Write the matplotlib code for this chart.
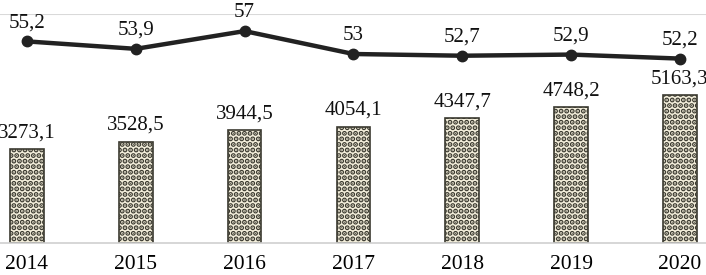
import matplotlib
matplotlib.use("Agg")
import matplotlib.pyplot as plt
import numpy as np

years = ["2014", "2015", "2016", "2017", "2018", "2019", "2020"]
bar_values = [3273.1, 3528.5, 3944.5, 4054.1, 4347.7, 4748.2, 5163.3]
line_values = [55.2, 53.9, 57.0, 53.0, 52.7, 52.9, 52.2]

def fmt(v):
    s = ("%g" % v)
    return s.replace(".", ",")

plt.rcParams['font.family'] = ['Liberation Serif', 'DejaVu Serif']
plt.rcParams['hatch.linewidth'] = 2.6

fig = plt.figure(figsize=(7.06, 2.75), dpi=100)
ax = fig.add_axes([0, 0.1164, 1, 0.833])
x = np.arange(len(years))

bars = ax.bar(x, bar_values, width=0.31, facecolor='#f4efdc', edgecolor='#3b3a30',
              hatch='...', linewidth=1.2, zorder=2)
ax.set_ylim(0, 8000)
ax.set_xlim(-0.248, 6.24)
for xi, v in zip(x, bar_values):
    ax.annotate(fmt(v), (xi, v), xytext=(0, 5), textcoords='offset points',
                ha='center', va='bottom', fontsize=15, color='#111111')

ax.axhline(8000, color='#d9d9d9', linewidth=1.5, zorder=1)
for s in ['top', 'right', 'left']:
    ax.spines[s].set_visible(False)
ax.spines['bottom'].set_color('#d0d0d0')
ax.spines['bottom'].set_linewidth(1.2)
ax.set_yticks([])
ax.set_xticks(x)
ax.set_xticklabels(years, fontsize=15.5)
ax.tick_params(axis='x', length=0, pad=9)

ax2 = ax.twinx()
ax2.set_ylim(20, 60)
ax2.plot(x, line_values, color='#222222', linewidth=3.2, marker='o', markersize=7.5, zorder=3)
for xi, v in zip(x, line_values):
    ax2.annotate(fmt(v), (xi, v), xytext=(0, 6.5), textcoords='offset points',
                 ha='center', va='bottom', fontsize=15, color='#111111')
ax2.set_yticks([])
for s in ax2.spines.values():
    s.set_visible(False)
ax2.set_xlim(-0.248, 6.24)

fig.savefig("out.png", dpi=100)
